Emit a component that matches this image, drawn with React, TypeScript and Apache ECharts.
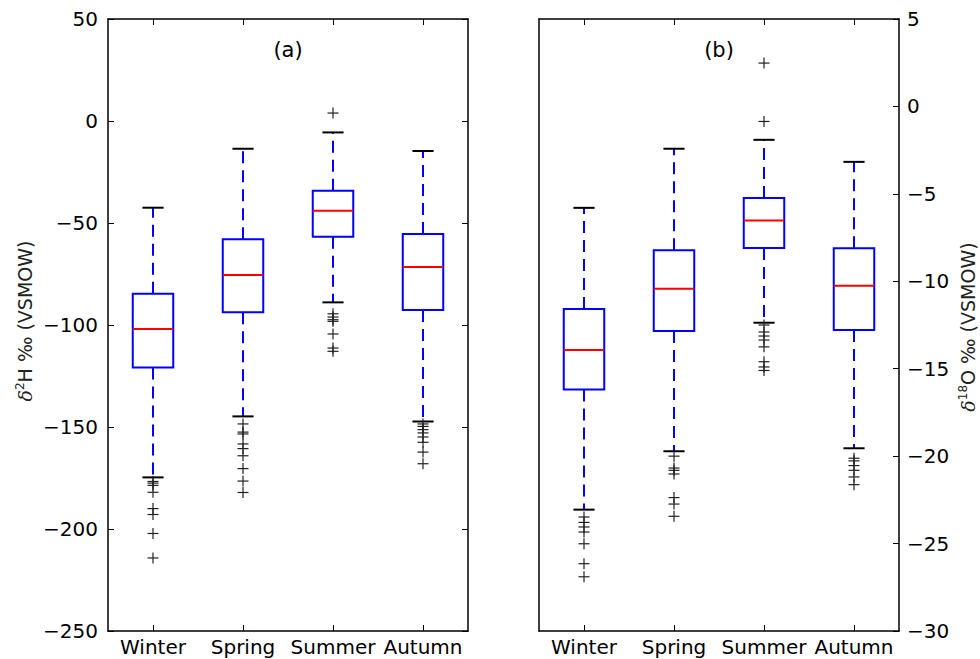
import React, { useEffect, useRef } from "react";
import * as echarts from "echarts";

const categories = ["Winter", "Spring", "Summer", "Autumn"];

// Panel (a): δ2H ‰
const h2WhiskerLow = [-174.7, -144.8, -88.9, -147.3];
const h2Q1 = [-120.8, -93.8, -56.7, -92.6];
const h2Median = [-102.0, -75.5, -44.0, -71.6];
const h2Q3 = [-84.7, -58.0, -34.2, -55.4];
const h2WhiskerHigh = [-42.5, -13.6, -5.6, -14.7];
const h2Outliers = [
  [-176.7, -177.5, -178.6, -182.0, -190.0, -192.9, -202.2, -214.2],
  [-148.5, -152.5, -153.4, -158.3, -160.6, -164.1, -170.4, -176.5, -182.1],
  [3.9, -94.5, -96.1, -97.4, -98.2, -104.4, -111.3, -112.9],
  [-148.5, -149.7, -151.3, -152.9, -154.9, -157.5, -162.3, -168.0],
];

// Panel (b): δ18O ‰
const o18WhiskerLow = [-23.06, -19.72, -12.37, -19.55];
const o18Q1 = [-16.19, -12.85, -8.09, -12.79];
const o18Median = [-13.93, -10.42, -6.53, -10.25];
const o18Q3 = [-11.59, -8.22, -5.23, -8.11];
const o18WhiskerHigh = [-5.8, -2.42, -1.91, -3.17];
const o18Outliers = [
  [-23.48, -23.79, -24.05, -24.34, -25.01, -26.15, -26.9],
  [-20.0, -20.68, -20.81, -21.02, -22.37, -22.74, -23.44],
  [2.48, -0.86, -12.5, -12.9, -13.13, -13.36, -13.75, -14.6, -14.9, -15.1],
  [-20.12, -20.27, -20.54, -20.81, -21.19, -21.63],
];

const leftTicks = { min: -250, max: 50, interval: 50 };
const rightTicks = { min: -30, max: 5, interval: 5 };

const FONT = "DejaVu Sans";
const fmtMinus = (v: number) => (v < 0 ? "\u2212" + String(Math.abs(v)) : String(v));

function boxData(lo: number[], q1: number[], med: number[], q3: number[], hi: number[]) {
  return categories.map((_, i) => [i, lo[i], q1[i], med[i], q3[i], hi[i]]);
}
function outlierData(out: number[][]) {
  const d: number[][] = [];
  out.forEach((arr, i) => arr.forEach((v) => d.push([i, v])));
  return d;
}

const boxRender = (params: any, api: any) => {
  const i = api.value(0);
  const low = api.coord([i, api.value(1)]);
  const q1 = api.coord([i, api.value(2)]);
  const med = api.coord([i, api.value(3)]);
  const q3 = api.coord([i, api.value(4)]);
  const high = api.coord([i, api.value(5)]);
  const band = api.size([1, 0])[0];
  const bw = band * 0.45;
  const cw = band * 0.235;
  const x = low[0];
  const blue = "#0000ff";
  return {
    type: "group",
    children: [
      { type: "line", shape: { x1: x, y1: q3[1], x2: x, y2: high[1] }, style: { stroke: blue, lineWidth: 2, lineDash: [12, 7] } },
      { type: "line", shape: { x1: x, y1: q1[1], x2: x, y2: low[1] }, style: { stroke: blue, lineWidth: 2, lineDash: [12, 7] } },
      { type: "line", shape: { x1: x - cw / 2, y1: high[1], x2: x + cw / 2, y2: high[1] }, style: { stroke: "#000", lineWidth: 2 } },
      { type: "line", shape: { x1: x - cw / 2, y1: low[1], x2: x + cw / 2, y2: low[1] }, style: { stroke: "#000", lineWidth: 2 } },
      { type: "rect", shape: { x: x - bw / 2, y: q3[1], width: bw, height: q1[1] - q3[1] }, style: { fill: "none", stroke: blue, lineWidth: 2 } },
      { type: "line", shape: { x1: x - bw / 2, y1: med[1], x2: x + bw / 2, y2: med[1] }, style: { stroke: "#ff0000", lineWidth: 2 } },
    ],
  };
};

const plusRender = (params: any, api: any) => {
  const p = api.coord([api.value(0), api.value(1)]);
  const h = 5.5;
  return {
    type: "group",
    children: [
      { type: "line", shape: { x1: p[0] - h, y1: p[1], x2: p[0] + h, y2: p[1] }, style: { stroke: "#222", lineWidth: 1.2 } },
      { type: "line", shape: { x1: p[0], y1: p[1] - h, x2: p[0], y2: p[1] + h }, style: { stroke: "#222", lineWidth: 1.2 } },
    ],
  };
};

const labelRich = {
  d: { fontSize: 19, fontFamily: "DejaVu Serif", fontStyle: "italic", fill: "#222", lineHeight: 21, verticalAlign: "bottom" },
  s: { fontSize: 12, fontFamily: FONT, fill: "#222", lineHeight: 21, verticalAlign: "top" },
  n: { fontSize: 19, fontFamily: FONT, fill: "#222", lineHeight: 21, verticalAlign: "bottom" },
};

export default function App() {
  const ref = useRef<HTMLDivElement>(null);
  useEffect(() => {
    if (!ref.current) return;
    const chart = echarts.init(ref.current, null, { renderer: "svg" });
    const line = { show: true, onZero: false, lineStyle: { color: "#000", width: 1.5 } };
    const tick = { show: true, inside: true, length: 6, lineStyle: { color: "#000", width: 1 } };
    const xLabel = { fontSize: 20, color: "#000", fontFamily: FONT, margin: 6, interval: 0 };
    const yLabel = { fontSize: 20, color: "#000", fontFamily: FONT, formatter: fmtMinus };
    const xAxisBase = (gridIndex: number, position: string, showLabel: boolean) => ({
      gridIndex,
      type: "category",
      data: categories,
      position,
      boundaryGap: true,
      axisLine: line,
      axisTick: { ...tick, alignWithLabel: true, interval: 0 },
      axisLabel: showLabel ? xLabel : { show: false },
      splitLine: { show: false },
    });
    chart.setOption({
      animation: false,
      backgroundColor: "#fff",
      grid: [
        { left: 108, right: 512, top: 19, bottom: 28, show: false },
        { left: 539, right: 81, top: 19, bottom: 28, show: false },
      ],
      xAxis: [
        xAxisBase(0, "bottom", true),
        xAxisBase(0, "top", false),
        xAxisBase(1, "bottom", true),
        xAxisBase(1, "top", false),
      ],
      yAxis: [
        { gridIndex: 0, type: "value", ...leftTicks, position: "left", axisLine: line, axisTick: tick, axisLabel: { ...yLabel, margin: 10 }, splitLine: { show: false } },
        { gridIndex: 0, type: "value", ...leftTicks, position: "right", axisLine: line, axisTick: tick, axisLabel: { show: false }, splitLine: { show: false } },
        { gridIndex: 1, type: "value", ...rightTicks, position: "right", axisLine: line, axisTick: tick, axisLabel: { ...yLabel, margin: 8 }, splitLine: { show: false } },
        { gridIndex: 1, type: "value", ...rightTicks, position: "left", axisLine: line, axisTick: { show: false }, axisLabel: { show: false }, splitLine: { show: false } },
      ],
      series: [
        { type: "custom", xAxisIndex: 0, yAxisIndex: 0, renderItem: boxRender, data: boxData(h2WhiskerLow, h2Q1, h2Median, h2Q3, h2WhiskerHigh), encode: { x: 0, y: [1, 2, 3, 4, 5] } },
        { type: "custom", xAxisIndex: 0, yAxisIndex: 0, renderItem: plusRender, data: outlierData(h2Outliers), encode: { x: 0, y: 1 } },
        { type: "custom", xAxisIndex: 2, yAxisIndex: 2, renderItem: boxRender, data: boxData(o18WhiskerLow, o18Q1, o18Median, o18Q3, o18WhiskerHigh), encode: { x: 0, y: [1, 2, 3, 4, 5] } },
        { type: "custom", xAxisIndex: 2, yAxisIndex: 2, renderItem: plusRender, data: outlierData(o18Outliers), encode: { x: 0, y: 1 } },
      ],
      graphic: [
        { type: "text", x: 288, y: 50, style: { text: "(a)", fontSize: 21, fontFamily: FONT, fill: "#000", align: "center", verticalAlign: "middle" } },
        { type: "text", x: 719, y: 50, style: { text: "(b)", fontSize: 21, fontFamily: FONT, fill: "#000", align: "center", verticalAlign: "middle" } },
        { type: "text", x: 24, y: 321, rotation: Math.PI / 2, style: { text: "{d|δ}{s|2}{n|H ‰ (VSMOW)}", rich: labelRich, align: "center", verticalAlign: "middle" } },
        { type: "text", x: 967, y: 327, rotation: Math.PI / 2, style: { text: "{d|δ}{s|18}{n|O ‰ (VSMOW)}", rich: labelRich, align: "center", verticalAlign: "middle" } },
      ],
    });
    return () => chart.dispose();
  }, []);
  return <div ref={ref} style={{ position: "fixed", left: 0, top: 0, width: 980, height: 659 }} />;
}
